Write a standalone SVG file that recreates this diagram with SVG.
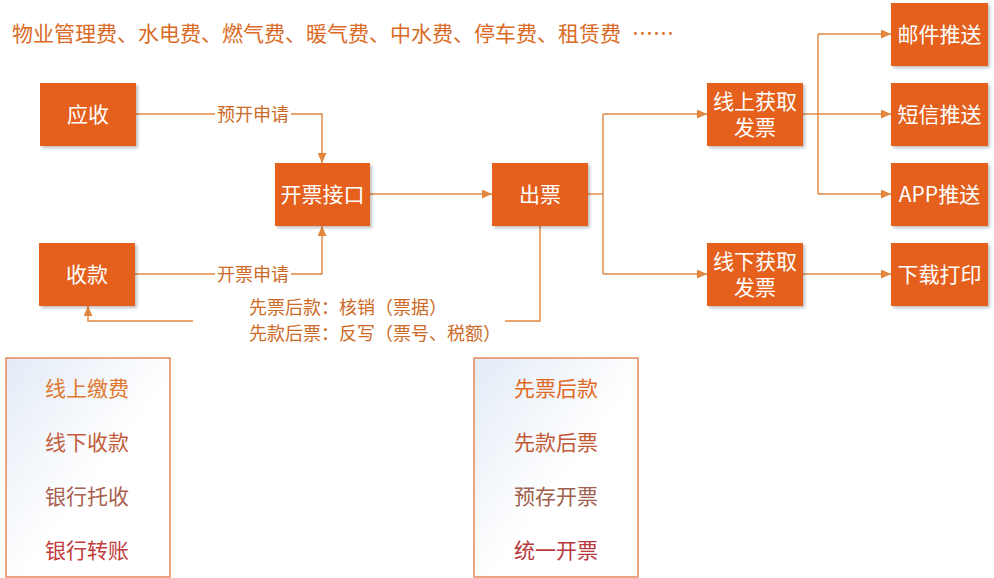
<svg xmlns="http://www.w3.org/2000/svg" width="994" height="578" viewBox="0 0 994 578">
<style>
text{font-family:"Noto Sans CJK SC","Microsoft YaHei",sans-serif;}
.node rect{fill:#E5611F;filter:url(#sh);}
.node text{fill:#fff;font-size:21px;text-anchor:middle;}
.conn path{fill:none;stroke:#E2873F;stroke-width:1.4;}
.lbl{fill:#CC6A26;font-size:18px;}
.top{fill:#DA6A24;font-size:21px;}
.panel rect{fill:url(#pg);stroke:#E8875A;stroke-width:1.5;}
.panel text{font-size:21px;text-anchor:middle;}
</style>
<defs>
<filter id="sh" x="-10%" y="-10%" width="130%" height="130%">
<feDropShadow dx="2" dy="2" stdDeviation="1.5" flood-color="#000" flood-opacity="0.25"/>
</filter>
<marker id="ah" markerUnits="userSpaceOnUse" markerWidth="10" markerHeight="9" refX="10" refY="4.5" orient="auto">
<path d="M0,0 L10,4.5 L0,9 z" fill="#E2873F"/>
</marker>
<linearGradient id="pg" x1="0" y1="0" x2="1" y2="1">
<stop offset="0" stop-color="#E3EBF6"/>
<stop offset="0.55" stop-color="#FFFFFF"/>
<stop offset="1" stop-color="#FFFFFF"/>
</linearGradient>
</defs>
<rect width="994" height="578" fill="#fff"/>
<text class="top" x="12" y="41">物业管理费、水电费、燃气费、暖气费、中水费、停车费、租赁费 <tspan x="632">……</tspan></text>

<g class="conn">
<path d="M136,114 H215"/>
<path d="M291,114 H322 V163" marker-end="url(#ah)"/>
<path d="M135,274 H215"/>
<path d="M291,274 H322 V226" marker-end="url(#ah)"/>
<path d="M370,194 H492" marker-end="url(#ah)"/>
<path d="M588,194 H603"/>
<path d="M603,114 V274"/>
<path d="M603,114 H707" marker-end="url(#ah)"/>
<path d="M603,274 H707" marker-end="url(#ah)"/>
<path d="M803,114 H891" marker-end="url(#ah)"/>
<path d="M818,34 V194"/>
<path d="M818,34 H891" marker-end="url(#ah)"/>
<path d="M818,194 H891" marker-end="url(#ah)"/>
<path d="M803,274 H891" marker-end="url(#ah)"/>
<path d="M540,226 V321 H505"/>
<path d="M193,321 H88 V306" marker-end="url(#ah)"/>
<text class="lbl" x="253" y="120.5" text-anchor="middle">预开申请</text>
<text class="lbl" x="253" y="280.5" text-anchor="middle">开票申请</text>
<text class="lbl" x="249" y="313.5">先票后款：核销（票据）</text>
<text class="lbl" x="249" y="339.5">先款后票：反写（票号、税额）</text>
</g>

<g id="yingshou" class="node"><rect x="40" y="83" width="96" height="63"/><text x="88" y="122">应收</text></g>
<g id="shoukuan" class="node"><rect x="39" y="243" width="96" height="63"/><text x="87" y="282">收款</text></g>
<g id="kaipiaojiekou" class="node"><rect x="275" y="163" width="95" height="63"/><text x="322.5" y="202">开票接口</text></g>
<g id="chupiao" class="node"><rect x="492" y="163" width="96" height="63"/><text x="540" y="202">出票</text></g>
<g id="xianshang" class="node"><rect x="707" y="83" width="96" height="63"/><text x="755" y="109">线上获取<tspan x="755" dy="26">发票</tspan></text></g>
<g id="xianxia" class="node"><rect x="707" y="243" width="96" height="63"/><text x="755" y="269">线下获取<tspan x="755" dy="26">发票</tspan></text></g>
<g id="youjian" class="node"><rect x="891" y="3" width="97" height="63"/><text x="939.5" y="42">邮件推送</text></g>
<g id="duanxin" class="node"><rect x="891" y="83" width="97" height="63"/><text x="939.5" y="122">短信推送</text></g>
<g id="app" class="node"><rect x="891" y="163" width="97" height="63"/><text x="939.5" y="202">APP推送</text></g>
<g id="xiazai" class="node"><rect x="891" y="243" width="97" height="63"/><text x="939.5" y="282">下载打印</text></g>

<g id="pay-methods" class="panel">
<rect x="6" y="358" width="164" height="219"/>
<text x="87" y="396" fill="#E0782F">线上缴费</text>
<text x="87" y="450" fill="#C45D3C">线下收款</text>
<text x="87" y="504" fill="#A8604F">银行托收</text>
<text x="87" y="558" fill="#C23C3C">银行转账</text>
</g>
<g id="invoice-modes" class="panel">
<rect x="474" y="358" width="164" height="219"/>
<text x="556" y="396" fill="#E06A25">先票后款</text>
<text x="556" y="450" fill="#C25A38">先款后票</text>
<text x="556" y="504" fill="#A0604E">预存开票</text>
<text x="556" y="558" fill="#B8383C">统一开票</text>
</g>
</svg>
